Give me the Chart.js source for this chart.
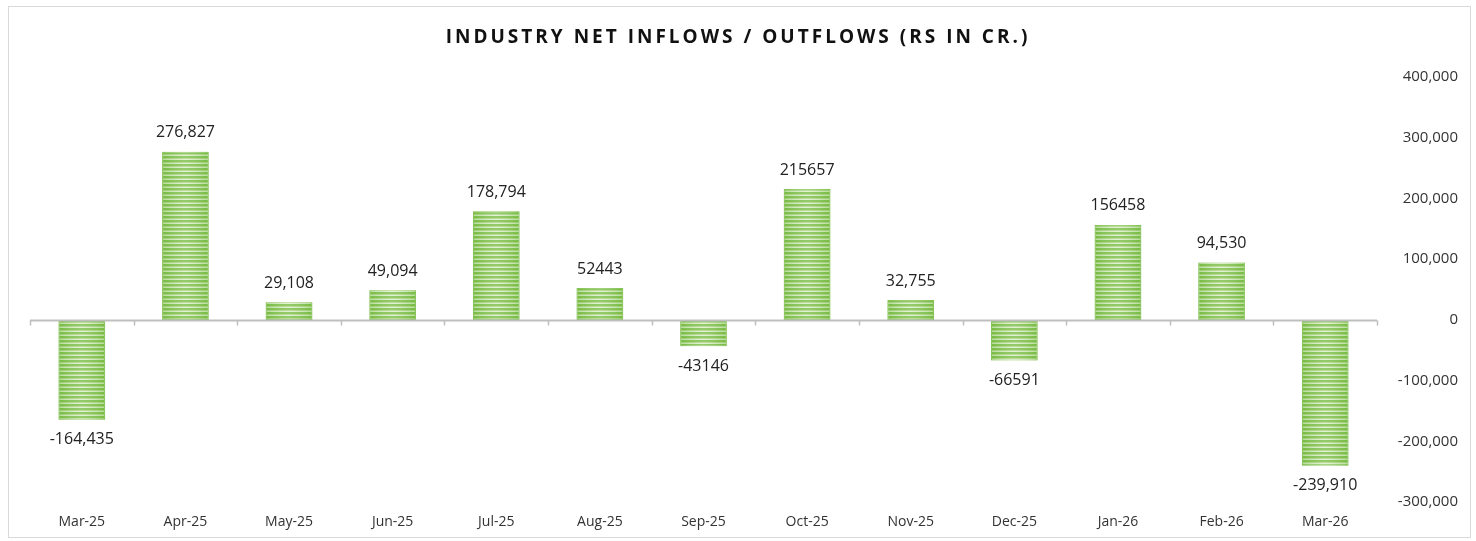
<!DOCTYPE html>
<html>
<head>
<meta charset="utf-8">
<script src="https://cdn.jsdelivr.net/npm/chart.js@4.4.1/dist/chart.umd.min.js"></script>
<style>
  html, body { margin: 0; padding: 0; background: #fff; }
  #wrap { width: 1476px; height: 541px; position: relative; }
</style>
</head>
<body>
<div id="wrap"><canvas id="myChart"></canvas></div>
<script>
// data
var months = ['Mar-25', 'Apr-25', 'May-25', 'Jun-25', 'Jul-25', 'Aug-25', 'Sep-25',
              'Oct-25', 'Nov-25', 'Dec-25', 'Jan-26', 'Feb-26', 'Mar-26'];
var netFlows = [-164435, 276827, 29108, 49094, 178794, 52443, -43146,
                215657, 32755, -66591, 156458, 94530, -239910];
// labels as printed on the chart (some with commas, some without)
var flowLabels = ['-164,435', '276,827', '29,108', '49,094', '178,794', '52443', '-43146',
                  '215657', '32,755', '-66591', '156458', '94,530', '-239,910'];
var titleText = 'INDUSTRY NET INFLOWS / OUTFLOWS (RS IN CR.)';

var FONT = "'Open Sans', 'Liberation Sans', sans-serif";

// striped green fill
var makeStripes = function () {
  var c = document.createElement('canvas');
  c.width = 4; c.height = 4;
  var g = c.getContext('2d');
  g.fillStyle = '#7abd44'; g.fillRect(0, 0, 4, 2);
  g.fillStyle = '#acd685'; g.fillRect(0, 2, 4, 1);
  g.fillStyle = '#dbeec8'; g.fillRect(0, 3, 4, 1);
  return g.createPattern(c, 'repeat');
};

var framePlugin = {
  id: 'frame',
  beforeDraw: function (chart) {
    var ctx = chart.ctx;
    ctx.save();
    ctx.strokeStyle = '#d9d9d9';
    ctx.lineWidth = 1;
    ctx.strokeRect(8.5, 6.5, chart.width - 14, chart.height - 10);
    // title with letter spacing
    ctx.fillStyle = '#111';
    ctx.font = 'bold 19px ' + FONT;
    if ('letterSpacing' in ctx) ctx.letterSpacing = '3px';
    ctx.textAlign = 'center';
    ctx.textBaseline = 'middle';
    ctx.fillText(titleText, 738, 38);
    ctx.restore();
  }
};

var axisPlugin = {
  id: 'zeroAxis',
  afterDatasetsDraw: function (chart) {
    var ctx = chart.ctx;
    var x = chart.scales.x, y = chart.scales.y;
    var y0 = Math.round(y.getPixelForValue(0)) + 0.5;
    var step = x.getPixelForValue(1) - x.getPixelForValue(0);
    ctx.save();

    // soft highlight across each bar
    var meta = chart.getDatasetMeta(0);
    meta.data.forEach(function (bar) {
      var left = bar.x - bar.width / 2, right = bar.x + bar.width / 2;
      var top = Math.min(bar.y, bar.base), bottom = Math.max(bar.y, bar.base);
      var gr = ctx.createLinearGradient(left, 0, right, 0);
      gr.addColorStop(0, 'rgba(110,180,60,0.35)');
      gr.addColorStop(0.5, 'rgba(255,255,255,0.2)');
      gr.addColorStop(1, 'rgba(110,180,60,0.35)');
      ctx.fillStyle = gr;
      ctx.fillRect(left, top, right - left, bottom - top);
    });

    // zero line with category tick marks
    ctx.strokeStyle = '#bfbfbf';
    ctx.lineWidth = 2;
    ctx.beginPath();
    ctx.moveTo(chart.chartArea.left, y0);
    ctx.lineTo(chart.chartArea.right, y0);
    ctx.stroke();
    ctx.lineWidth = 1.5;
    for (var i = 0; i <= months.length; i++) {
      var px = Math.round(x.getPixelForValue(i) - step / 2) + 0.5;
      ctx.beginPath();
      ctx.moveTo(px, y0);
      ctx.lineTo(px, y0 + 5);
      ctx.stroke();
    }

    // value labels
    ctx.font = '16px ' + FONT;
    ctx.textAlign = 'center';
    ctx.textBaseline = 'middle';
    ctx.fillStyle = '#222';
    meta.data.forEach(function (bar, i) {
      var ty = netFlows[i] >= 0 ? bar.y - 19 : bar.y + 20;
      ctx.fillText(flowLabels[i], bar.x, ty);
    });
    ctx.restore();
  }
};

var ctx = document.getElementById('myChart').getContext('2d');
var myChart = new Chart(ctx, {
  type: 'bar',
  data: {
    labels: months,
    datasets: [{
      label: 'Net Flows',
      data: netFlows,
      backgroundColor: makeStripes(),
      borderColor: '#8cc65c',
      borderWidth: 1,
      borderSkipped: false,
      barPercentage: 1,
      categoryPercentage: 0.45
    }]
  },
  options: {
    responsive: true,
    maintainAspectRatio: false,
    animation: false,
    layout: {
      padding: { left: 30, right: 18, top: 77, bottom: 0 }
    },
    plugins: {
      legend: { display: false },
      title: { display: false },
      tooltip: { enabled: false }
    },
    scales: {
      x: {
        grid: { display: false, drawTicks: false },
        border: { display: false },
        ticks: {
          color: '#333',
          font: { family: FONT, size: 14 },
          padding: 11,
          maxRotation: 0
        }
      },
      y: {
        position: 'right',
        min: -300000,
        max: 400000,
        grid: { display: false, drawTicks: false },
        border: { display: false },
        ticks: {
          stepSize: 100000,
          color: '#333',
          crossAlign: 'far',
          padding: 4,
          font: { family: FONT, size: 15 },
          callback: function (v) { return v.toLocaleString('en-US'); }
        },
        afterFit: function (scale) { scale.width = 81; }
      }
    }
  },
  plugins: [framePlugin, axisPlugin]
});
</script>
</body>
</html>
